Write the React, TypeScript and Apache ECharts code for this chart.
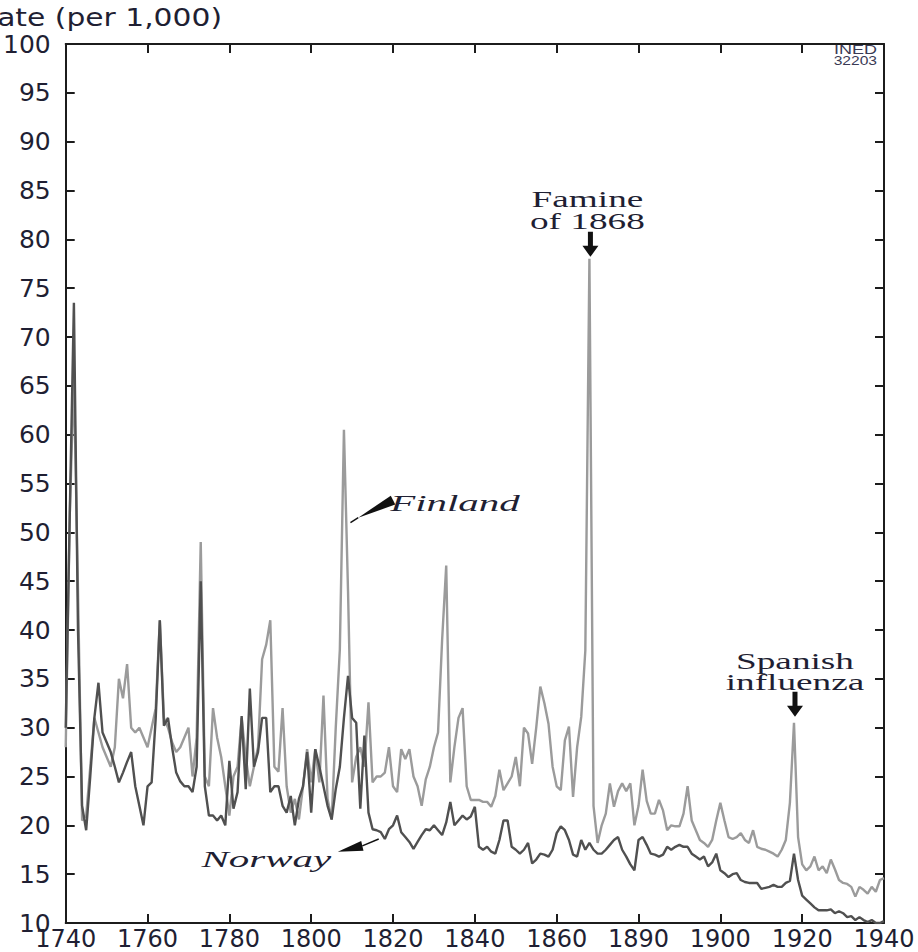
import React, { useEffect, useRef } from "react";
import * as echarts from "echarts";

const startYear = 1740;

// Crude death rate (per 1,000), Finland, 1740-1940
const finland = [
  28, 52, 66, 44, 20.5, 21, 26, 31, 29.5, 28,
  27, 26, 28, 35, 33, 36.5, 30, 29.5, 30, 29,
  28, 30, 32, 41, 31, 30, 28.5, 27.5, 28, 29,
  30, 25, 29, 49, 25, 24, 32, 29, 27, 24,
  21, 25, 26, 31, 27, 24, 26, 28, 37, 38.5,
  41, 26, 25.5, 32, 24, 21.3, 22.7, 20.6, 24, 27.8,
  24.4, 27.8, 24.4, 33.3, 22.7, 20.6, 30, 38, 60.5, 44,
  24.4, 27, 28, 26, 32.6, 24.4, 25, 25, 25.4, 28,
  24, 23.4, 27.8, 26.8, 27.8, 25, 24, 22, 24.7, 26,
  28, 29.5, 39, 46.6, 24.4, 28, 31, 32, 24, 22.6,
  22.6, 22.6, 22.4, 22.4, 21.9, 23, 25.7, 23.6, 24.3, 25,
  27, 24, 30, 29.4, 26.3, 30, 34.2, 32.5, 30.4, 26,
  24, 23.6, 28.7, 30.1, 22.9, 28, 31.1, 37.9, 78, 22,
  18.2, 20, 21.2, 24.3, 21.9, 23.5, 24.3, 23.5, 24.3, 20,
  22, 25.7, 22.5, 21.2, 21.2, 22.6, 21.5, 19.5, 20, 19.9,
  19.9, 21.2, 24, 20.5, 19.5, 18.5, 18.2, 17.8, 18.5, 20.5,
  22.3, 20.5, 18.8, 18.6, 18.8, 19.2, 18.5, 18.2, 19.5, 17.8,
  17.6, 17.5, 17.3, 17.1, 16.8, 17.5, 18.5, 22.3, 30.5, 18.8,
  16, 15.4, 15.8, 16.8, 15.4, 15.8, 15.1, 16.5, 15.5, 14.4,
  14.1, 14, 13.7, 12.7, 13.7, 13.4, 13, 13.7, 13.2, 14.4,
  14.6,
];

// Crude death rate (per 1,000), Norway, 1740-1940
const norway = [
  30, 52, 73.5, 40, 22, 19.5, 25, 31, 34.6, 29.5,
  28.5, 27.5, 26, 24.4, 25.4, 26.5, 27.5, 24, 22, 20,
  24, 24.4, 31, 41, 30.2, 31, 28, 25.4, 24.5, 24,
  24, 23.4, 26, 45, 24, 21, 21, 20.5, 21, 20,
  26.6, 21.7, 23.4, 31.2, 23.7, 34, 26, 27.5, 31, 31,
  23.4, 24, 24, 22, 21.3, 23, 20, 22.7, 24, 27.5,
  21.3, 27.8, 26, 24, 22, 20.6, 23.7, 26, 31, 35.3,
  31, 30.5, 21.7, 29.2, 21.3, 19.6, 19.5, 19.3, 18.6, 19.6,
  20, 21, 19.3, 18.8, 18.3, 17.6, 18.3, 19, 19.6, 19.5,
  20, 19.5, 19, 20.3, 22.4, 20, 20.5, 21, 20.6, 20.9,
  21.9, 17.8, 17.5, 17.8, 17.3, 17.1, 18.5, 20.5, 20.5, 17.8,
  17.5, 17.1, 17.5, 18.2, 16.1, 16.5, 17.1, 17, 16.8, 17.5,
  19.2, 19.9, 19.5, 18.5, 17, 16.8, 18.5, 17.5, 18.2, 17.5,
  17.1, 17.1, 17.5, 18, 18.5, 18.8, 17.5, 16.8, 16, 15.4,
  18.5, 18.8, 18, 17.1, 17, 16.8, 17, 17.8, 17.5, 17.8,
  18, 17.8, 17.8, 17.1, 16.8, 16.5, 16.8, 15.8, 16.2, 17.1,
  15.4, 15.1, 14.7, 15, 15.1, 14.4, 14.2, 14.1, 14.1, 14.1,
  13.5, 13.6, 13.7, 13.9, 13.7, 13.7, 14.1, 14.3, 17.1, 14.4,
  12.8, 12.4, 12, 11.6, 11.3, 11.3, 11.3, 11.4, 11, 11.2,
  11, 10.6, 10.7, 10.3, 10.6, 10.3, 10.1, 10.3, 10, 10,
  10.2,
];

// Tick labels exactly as printed (including the "1890" printed at 1880)
const xTickLabels = ["1740", "1760", "1780", "1800", "1820", "1840", "1860", "1890", "1900", "1920", "1940"];

const yAxisTitle = "Death rate (per 1,000)";
const famineLabel = ["Famine", "of 1868"];
const fluLabel = ["Spanish", "influenza"];

const axisColor = "#1c1c1c";
const textColor = "#1f1f33";
const finlandColor = "#9b9b9b";
const norwayColor = "#505050";

export default function App() {
  const ref = useRef<HTMLDivElement>(null);

  useEffect(() => {
    const chart = echarts.init(ref.current!, null, { renderer: "svg" });
    const years = finland.map((_, i) => startYear + i);

    const xBase = {
      type: "value",
      min: 1740,
      max: 1940,
      interval: 20,
      axisLine: { show: true, lineStyle: { color: axisColor, width: 2 } },
      axisTick: { show: true, inside: true, length: 9, lineStyle: { color: axisColor, width: 2 } },
      splitLine: { show: false },
    };
    const yBase = {
      type: "value",
      min: 10,
      max: 100,
      interval: 5,
      axisLine: { show: true, lineStyle: { color: axisColor, width: 2 } },
      axisTick: { show: true, inside: true, length: 9, lineStyle: { color: axisColor, width: 2 } },
      splitLine: { show: false },
    };

    chart.setOption({
      animation: false,
      backgroundColor: "#ffffff",
      grid: { left: 64, right: 34, top: 44, bottom: 29, containLabel: false },
      xAxis: [
        {
          ...xBase,
          position: "bottom",
          axisLabel: {
            fontFamily: "DejaVu Sans",
            fontSize: 24,
            color: textColor,
            margin: 4,
            formatter: (v: number) => xTickLabels[Math.round((v - 1740) / 20)] ?? "",
          },
        },
        { ...xBase, position: "top", axisLabel: { show: false } },
      ],
      yAxis: [
        {
          ...yBase,
          position: "left",
          axisLabel: {
            fontFamily: "DejaVu Sans",
            fontSize: 25,
            color: textColor,
            margin: 15,
            padding: [0, 0, 8, 0],
          },
        },
        { ...yBase, position: "right", axisLabel: { show: false } },
      ],
      series: [
        {
          name: "Finland",
          type: "line",
          xAxisIndex: 0,
          yAxisIndex: 0,
          showSymbol: false,
          symbol: "none",
          lineStyle: { color: finlandColor, width: 2.4 },
          data: years.map((y, i) => [y, finland[i]]),
          z: 2,
        },
        {
          name: "Norway",
          type: "line",
          xAxisIndex: 0,
          yAxisIndex: 0,
          showSymbol: false,
          symbol: "none",
          lineStyle: { color: norwayColor, width: 2.4 },
          data: years.map((y, i) => [y, norway[i]]),
          z: 3,
        },
      ],
    });

    const px = (x: number, y: number) =>
      chart.convertToPixel({ xAxisIndex: 0, yAxisIndex: 0 }, [x, y]) as number[];

    const serif = (
      text: string,
      x: number,
      y: number,
      align: string,
      scaleX: number,
      italic = false
    ) => ({
      type: "text",
      x,
      y,
      scaleX,
      z: 10,
      style: {
        text,
        x: 0,
        y: 0,
        align,
        verticalAlign: "middle",
        fontFamily: "Liberation Serif",
        fontSize: 23,
        fontStyle: italic ? "italic" : "normal",
        fill: textColor,
      },
    });

    const downArrow = (tipX: number, tipY: number) => ({
      type: "polygon",
      x: tipX,
      y: tipY,
      z: 10,
      shape: {
        points: [
          [0, 0],
          [-8, -11],
          [-2.5, -11],
          [-2.5, -25],
          [2.5, -25],
          [2.5, -11],
          [8, -11],
        ],
      },
      style: { fill: "#111" },
    });

    const wedge = (apex: number[], base: number[], half: number) => {
      const dx = base[0] - apex[0];
      const dy = base[1] - apex[1];
      const len = Math.hypot(dx, dy) || 1;
      const nx = (-dy / len) * half;
      const ny = (dx / len) * half;
      return {
        type: "polygon",
        z: 10,
        shape: {
          points: [apex, [base[0] + nx, base[1] + ny], [base[0] - nx, base[1] - ny]],
        },
        style: { fill: "#111" },
      };
    };
    const thin = (a: number[], b: number[]) => ({
      type: "line",
      z: 10,
      shape: { x1: a[0], y1: a[1], x2: b[0], y2: b[1] },
      style: { stroke: "#111", lineWidth: 1.5 },
    });

    const famineTip = px(1868, 78);
    const fluTip = px(1918, 30.5);

    // Finland pointer
    const finCurve = px(1809.6, 51);
    const finApex = px(1811.5, 51.5);
    const finBase = px(1820, 53.3);
    // Norway pointer
    const norApex = px(1806.5, 17.3);
    const norBase = px(1812.5, 17.9);
    const norCurve = px(1816.5, 18.6);

    const finText = px(1819.3, 53);
    const norText = px(1773.2, 16.6);

    chart.setOption({
      graphic: [
        {
          type: "text",
          x: 222,
          y: 18,
          scaleX: 1.24,
          style: {
            text: yAxisTitle,
            x: 0,
            y: 0,
            align: "right",
            verticalAlign: "middle",
            fontFamily: "DejaVu Sans",
            fontSize: 24,
            fill: textColor,
          },
        },
        {
          type: "text",
          x: 877,
          y: 50,
          scaleX: 1.5,
          style: {
            text: "INED",
            x: 0,
            y: 0,
            align: "right",
            verticalAlign: "middle",
            fontFamily: "Liberation Sans",
            fontSize: 12,
            fill: "#3a3a55",
          },
        },
        {
          type: "text",
          x: 877,
          y: 61,
          scaleX: 1.3,
          style: {
            text: "32203",
            x: 0,
            y: 0,
            align: "right",
            verticalAlign: "middle",
            fontFamily: "Liberation Sans",
            fontSize: 12,
            fill: "#3a3a55",
          },
        },
        serif(famineLabel[0], famineTip[0] - 2, famineTip[1] - 60, "center", 1.62),
        serif(famineLabel[1], famineTip[0] - 2, famineTip[1] - 38, "center", 1.62),
        downArrow(famineTip[0] + 1, famineTip[1] - 2),
        serif(fluLabel[0], fluTip[0] + 1, fluTip[1] - 62, "center", 1.62),
        serif(fluLabel[1], fluTip[0] + 1, fluTip[1] - 41, "center", 1.62),
        downArrow(fluTip[0] + 1, fluTip[1] - 6),
        serif("Finland", finText[0], finText[1], "left", 1.78, true),
        serif("Norway", norText[0], norText[1], "left", 1.78, true),
        thin(finCurve, finApex),
        wedge(finApex, finBase, 5),
        wedge(norApex, norBase, 5),
        thin(norBase, norCurve),
      ],
    });

    return () => chart.dispose();
  }, []);

  return (
    <div
      ref={ref}
      style={{ position: "absolute", left: 0, top: 0, width: 918, height: 952, background: "#fff" }}
    />
  );
}
